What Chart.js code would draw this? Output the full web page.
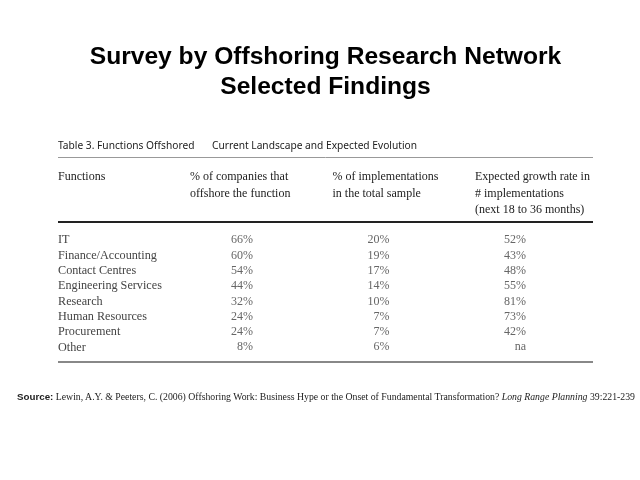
<!DOCTYPE html>
<html>
<head>
<meta charset="utf-8">
<script src="https://cdn.jsdelivr.net/npm/chart.js@4.4.1/dist/chart.umd.min.js"></script>
<style>
html,body{margin:0;padding:0;background:#fff;}
#wrap{position:relative;width:640px;height:480px;overflow:hidden;}
#c{position:absolute;left:0;top:0;}
#source{position:absolute;left:17px;top:391px;white-space:nowrap;font-family:'Liberation Serif','Times New Roman',serif;font-size:10px;line-height:12px;color:#222;}
#source b{font-family:'Liberation Sans',Arial,sans-serif;font-weight:bold;}
</style>
</head>
<body>
<div id="wrap">
<canvas id="c" width="640" height="480"></canvas>
<div id="source"><b>Source:</b> Lewin, A.Y. &amp; Peeters, C. (2006) Offshoring Work: Business Hype or the Onset of Fundamental Transformation? <i>Long Range Planning</i> 39:221-239</div>
</div>
<script>
const titleLines = ['Survey by Offshoring Research Network', 'Selected Findings'];
const tableCaption = 'Table 3. Functions Offshored';
const tableSubCaption = 'Current Landscape and Expected Evolution';
const rowHeader = 'Functions';
const functions = ['IT', 'Finance/Accounting', 'Contact Centres', 'Engineering Services', 'Research', 'Human Resources', 'Procurement', 'Other'];
const columnHeaders = [
  ['% of companies that', 'offshore the function'],
  ['% of implementations', 'in the total sample'],
  ['Expected growth rate in', '# implementations', '(next 18 to 36 months)']
];
const pctCompanies = [66, 60, 54, 44, 32, 24, 24, 8];
const pctImplementations = [20, 19, 17, 14, 10, 7, 7, 6];
const expectedGrowth = [52, 43, 48, 55, 81, 73, 42, null];

const columns = [pctCompanies, pctImplementations, expectedGrowth];

const tablePlugin = {
  id: 'tableText',
  afterDatasetsDraw(chart) {
    const ctx = chart.ctx;
    const a = chart.chartArea;
    const xh = chart.scales.xh;
    ctx.save();
    ctx.textBaseline = 'middle';
    ctx.textAlign = 'left';
    // caption
    ctx.fillStyle = '#222';
    ctx.font = '10.2px "Noto Sans", "DejaVu Sans", sans-serif';
    ctx.fillText(tableCaption, a.left, a.top - 86);
    ctx.fillText(tableSubCaption, a.left + 154, a.top - 86);
    // rules
    ctx.strokeStyle = '#999';
    ctx.lineWidth = 1;
    ctx.beginPath();
    ctx.moveTo(a.left, Math.round(a.top - 75.4) + 0.5);
    ctx.lineTo(a.right, Math.round(a.top - 75.4) + 0.5);
    ctx.stroke();
    ctx.strokeStyle = '#222';
    ctx.lineWidth = 2;
    ctx.beginPath();
    ctx.moveTo(a.left, Math.round(a.top - 10.4));
    ctx.lineTo(a.right, Math.round(a.top - 10.4));
    ctx.stroke();
    ctx.strokeStyle = '#888';
    ctx.beginPath();
    ctx.moveTo(a.left, Math.round(a.bottom + 7));
    ctx.lineTo(a.right, Math.round(a.bottom + 7));
    ctx.stroke();
    // headers
    ctx.fillStyle = '#222';
    ctx.font = '12px "Liberation Serif", "Times New Roman", serif';
    ctx.fillText(rowHeader, a.left, a.top - 55.4);
    columnHeaders.forEach((lines, ci) => {
      const left = xh.getPixelForValue(ci);
      lines.forEach((t, li) => ctx.fillText(t, left, a.top - 55.4 + li * 16.5));
    });
    // values
    ctx.textAlign = 'right';
    ctx.fillStyle = '#666';
    chart.data.datasets.forEach((ds, di) => {
      chart.getDatasetMeta(di).data.forEach((el, i) => {
        const v = ds.data[i].v;
        ctx.fillText(v == null ? 'na' : v + '%', el.x, el.y);
      });
    });
    ctx.restore();
  }
};

new Chart(document.getElementById('c'), {
  type: 'scatter',
  data: {
    datasets: columns.map((vals, ci) => ({
      label: columnHeaders[ci].join(' '),
      data: functions.map((f, i) => ({ x: ci, y: f, v: vals[i] })),
      pointRadius: 0,
      pointHoverRadius: 0,
      showLine: false
    }))
  },
  options: {
    responsive: false,
    animation: false,
    events: [],
    layout: { padding: { left: 58, right: 47, top: 0, bottom: 125 } },
    plugins: {
      legend: { display: false },
      tooltip: { enabled: false },
      title: {
        display: true,
        text: titleLines,
        color: '#000',
        font: { family: '"Liberation Sans", Arial, sans-serif', size: 24.6, weight: 'bold', lineHeight: 1.22 },
        padding: { top: 42, bottom: 130.4 }
      }
    },
    scales: {
      x: { type: 'linear', display: false, min: -1.4286, max: 2.491 },
      xh: { type: 'linear', axis: 'x', display: false, min: -0.926, max: 2.828 },
      y: {
        type: 'category',
        labels: functions,
        offset: true,
        grid: { display: false, drawTicks: false },
        border: { display: false },
        ticks: {
          autoSkip: false,
          mirror: true,
          padding: 0,
          color: '#444',
          font: { family: '"Liberation Serif", "Times New Roman", serif', size: 12.2 }
        }
      }
    }
  },
  plugins: [tablePlugin]
});

// fit the source line to its width in the reference
(function () {
  const s = document.getElementById('source');
  const w = s.getBoundingClientRect().width;
  const target = 618;
  s.style.fontSize = (10 * target / w).toFixed(2) + 'px';
})();
</script>
</body>
</html>
